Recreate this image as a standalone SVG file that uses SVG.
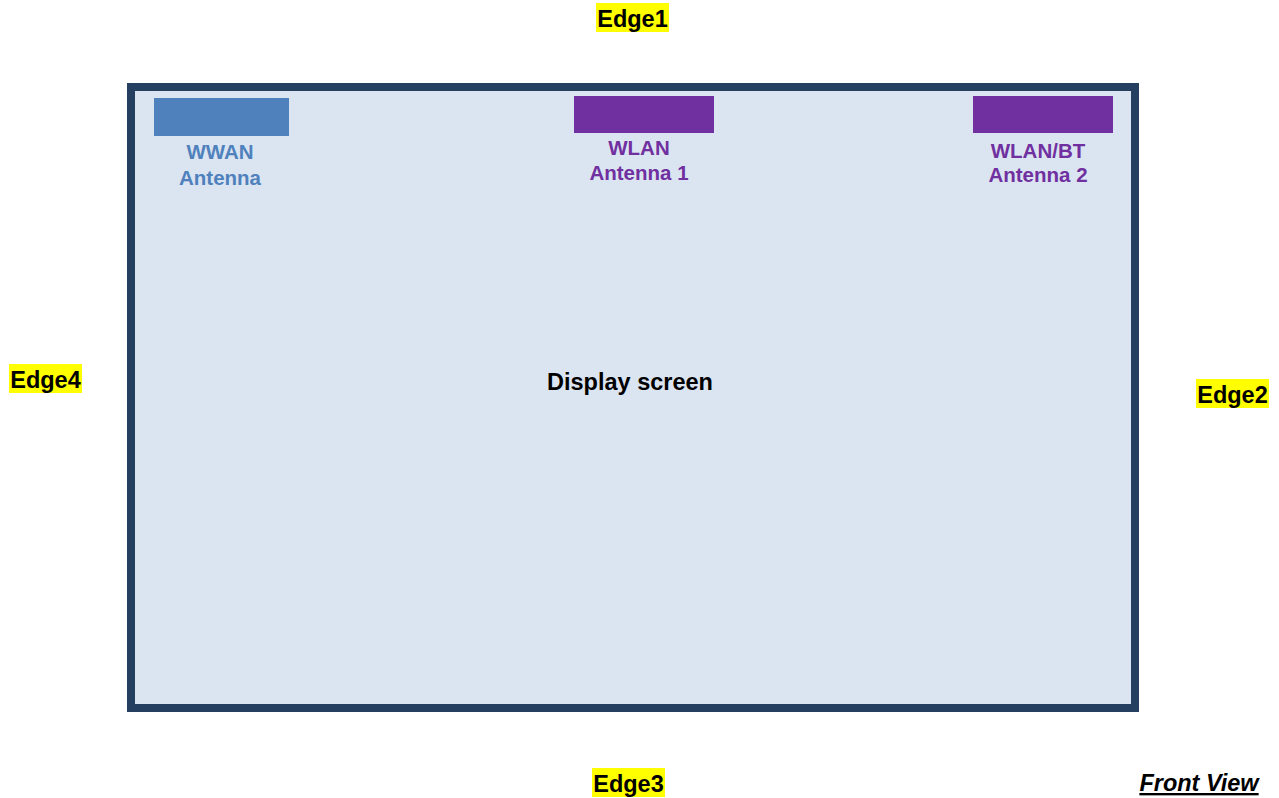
<svg xmlns="http://www.w3.org/2000/svg" width="1279" height="798" viewBox="0 0 1279 798">
<style>
text{font-family:"Liberation Sans",Arial,sans-serif;font-weight:bold;text-anchor:middle}
.edge{font-size:23.5px;fill:#000}
.hl{fill:#FFFF00}
.lbl{font-size:20.5px}
.wwan{fill:#4F81BD}
.wlan{fill:#7030A0}
</style>
<rect width="1279" height="798" fill="#fff"/>
<g id="screen">
<rect x="131" y="87" width="1004" height="621" fill="#DBE5F1" stroke="#243F60" stroke-width="8"/>
<text x="630" y="390" style="font-size:23.5px" fill="#000">Display screen</text>
</g>
<g id="wwan">
<rect class="wwan" x="154" y="98" width="135" height="38"/>
<text class="lbl wwan" x="220" y="159">WWAN</text>
<text class="lbl wwan" x="220" y="185">Antenna</text>
</g>
<g id="wlan1">
<rect class="wlan" x="574" y="96" width="140" height="37"/>
<text class="lbl wlan" x="639" y="155">WLAN</text>
<text class="lbl wlan" x="639" y="180">Antenna 1</text>
</g>
<g id="wlan2">
<rect class="wlan" x="973" y="96" width="140" height="37"/>
<text class="lbl wlan" x="1038" y="158">WLAN/BT</text>
<text class="lbl wlan" x="1038" y="182">Antenna 2</text>
</g>
<g id="edge1">
<rect class="hl" x="596" y="3" width="73" height="29"/>
<text class="edge" x="632.5" y="27">Edge1</text>
</g>
<g id="edge2">
<rect class="hl" x="1196" y="379" width="73" height="29"/>
<text class="edge" x="1232.5" y="403">Edge2</text>
</g>
<g id="edge3">
<rect class="hl" x="592" y="768" width="73" height="29"/>
<text class="edge" x="628.5" y="792">Edge3</text>
</g>
<g id="edge4">
<rect class="hl" x="9" y="364" width="73" height="29"/>
<text class="edge" x="45.5" y="388">Edge4</text>
</g>
<g id="frontview">
<text x="1199" y="791" style="font-size:23.5px;font-style:italic;text-decoration:underline" fill="#000">Front View</text>
</g>
<g id="connectors"/>
</svg>
